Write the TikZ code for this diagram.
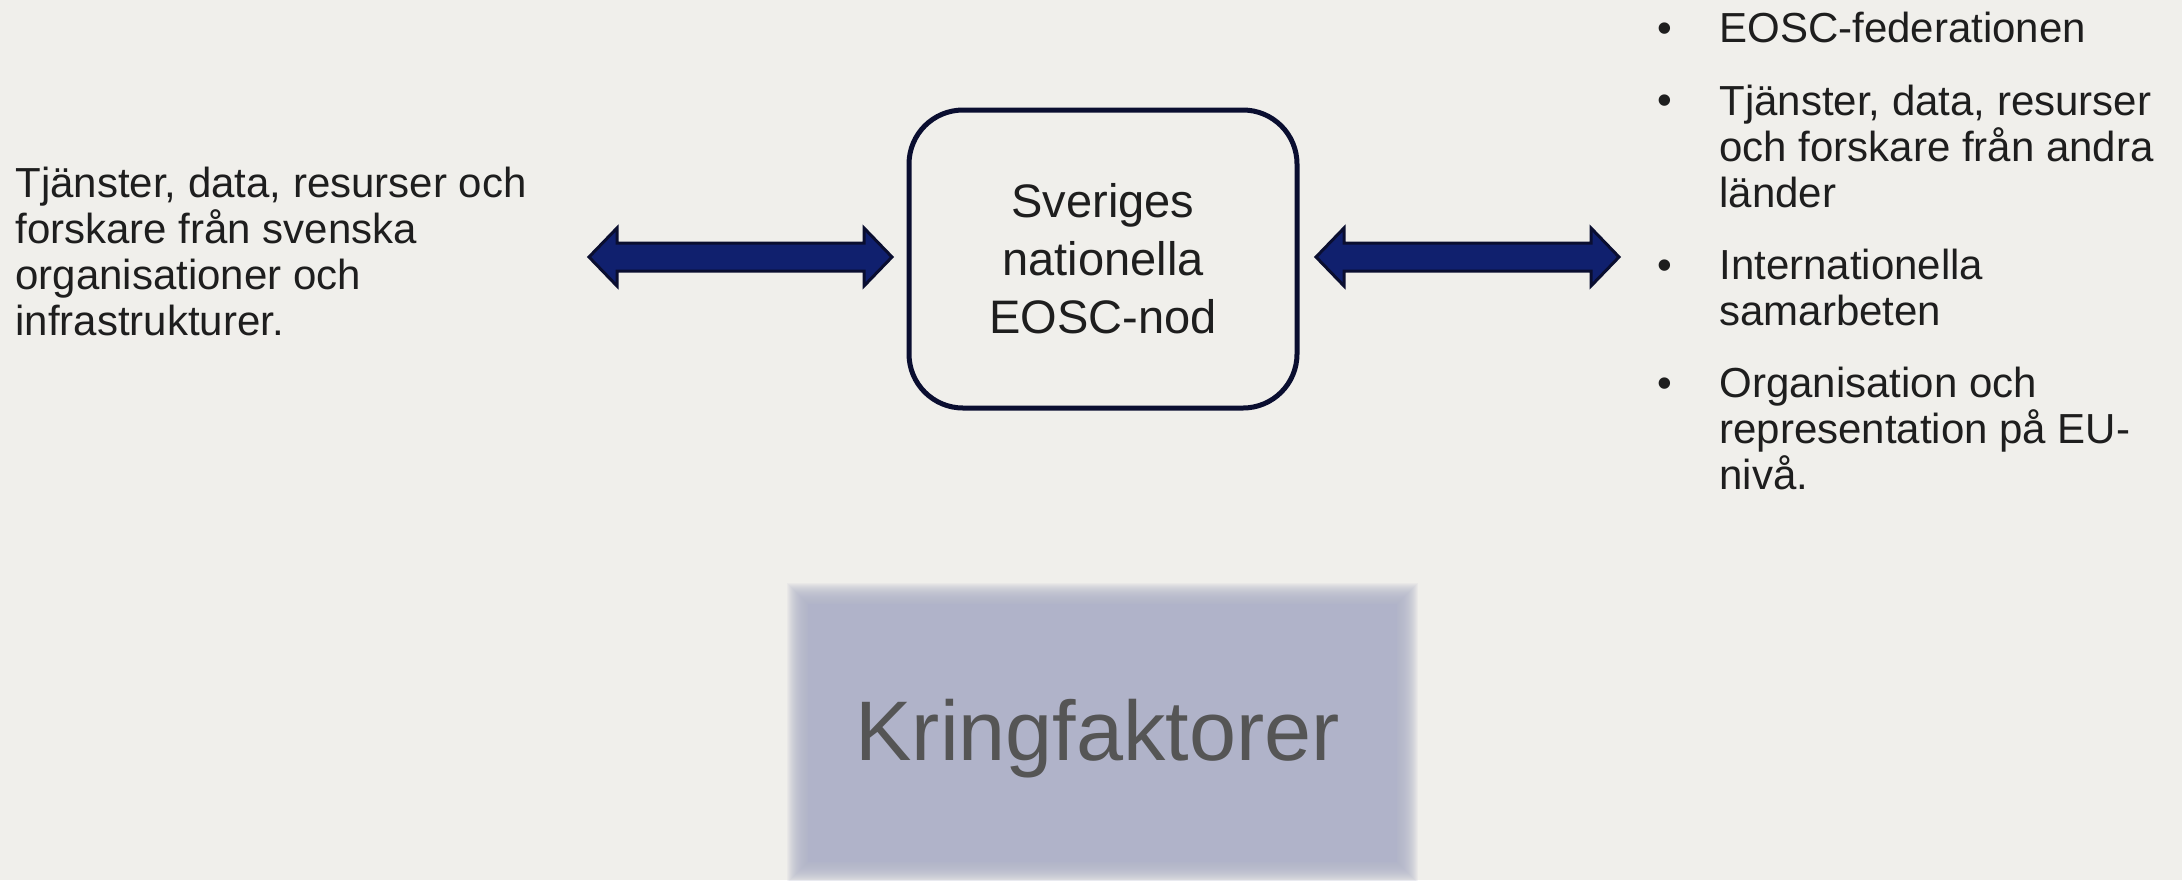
\documentclass[tikz,border=0pt]{standalone}
\usepackage{fontspec}
\setmainfont{Liberation Sans}
\usetikzlibrary{calc}
\definecolor{bg}{RGB}{240,239,235}
\definecolor{navy}{RGB}{16,32,110}
\definecolor{navyline}{RGB}{10,14,48}
\definecolor{txt}{RGB}{30,30,30}
\definecolor{kfill}{RGB}{176,179,201}
\definecolor{ktext}{RGB}{85,85,85}
\tikzset{
  bodytext/.style={font=\fontsize{21pt}{23pt}\selectfont, text=txt, inner sep=0pt, align=left},
  nodebox/.style={draw=navyline, line width=2.5pt, rounded corners=27pt, fill=bg,
    minimum width=194pt, minimum height=149pt, inner sep=0pt, align=center, text=txt,
    font=\fontsize{23.5pt}{29pt}\selectfont},
  blockarrow/.style={fill=navy, draw=navyline, line width=1.5pt, line join=miter},
  bulletmark/.style={font=\fontsize{21pt}{23pt}\selectfont, text=txt, inner sep=0pt, anchor=base}
}
\begin{document}
\begin{tikzpicture}[x=0.5pt,y=-0.5pt]
\fill[bg] (0,0) rectangle (2182,880);
\useasboundingbox (0,0) rectangle (2182,880);

% Kringfaktorer soft box
\fill[kfill] (808,604) rectangle (1397,862);
\foreach \d in {-10,...,10}{
  \fill[kfill, fill opacity=0.1] (797-\d,593-\d) rectangle (1408+\d,873+\d);
}
\node[inner sep=0pt, text=ktext, font=\fontsize{42.3pt}{50pt}\selectfont, anchor=base west] (kring) at (855,760) {Kringfaktorer};

% central node
\node[nodebox] (nod) at (1103,259) {Sveriges\\nationella\\EOSC-nod};

% left text (anchored at baseline of last line)
\node[bodytext, anchor=base west] (left) at (15,335) {Tjänster, data, resurser och\\forskare från svenska\\organisationer och\\infrastrukturer.};

% right list
\node[bulletmark] (b1) at (1665,42) {•};
\node[bodytext, anchor=base west] (r1) at (1719,42) {EOSC-federationen};
\node[bulletmark] (b2) at (1665,114) {•};
\node[bodytext, anchor=base west] (r2) at (1719,207) {Tjänster, data, resurser\\och forskare från andra\\länder};
\node[bulletmark] (b3) at (1665,279) {•};
\node[bodytext, anchor=base west] (r3) at (1719,325) {Internationella\\samarbeten};
\node[bulletmark] (b4) at (1665,397) {•};
\node[bodytext, anchor=base west] (r4) at (1719,489) {Organisation och\\representation på EU-\\nivå.};

% block arrows
\coordinate (la) at (589,257);
\coordinate (lb) at (892,257);
\coordinate (ra) at (1316,257);
\coordinate (rb) at (1619,257);
\draw[blockarrow] (la) -- ++(28,-29) -- ++(0,15) -- ($(lb)+(-28,-14)$) -- ++(0,-15) -- (lb) -- ++(-28,29) -- ++(0,-15) -- ($(la)+(28,14)$) -- ++(0,15) -- cycle;
\draw[blockarrow] (ra) -- ++(28,-29) -- ++(0,15) -- ($(rb)+(-28,-14)$) -- ++(0,-15) -- (rb) -- ++(-28,29) -- ++(0,-15) -- ($(ra)+(28,14)$) -- ++(0,15) -- cycle;
\end{tikzpicture}
\end{document}
